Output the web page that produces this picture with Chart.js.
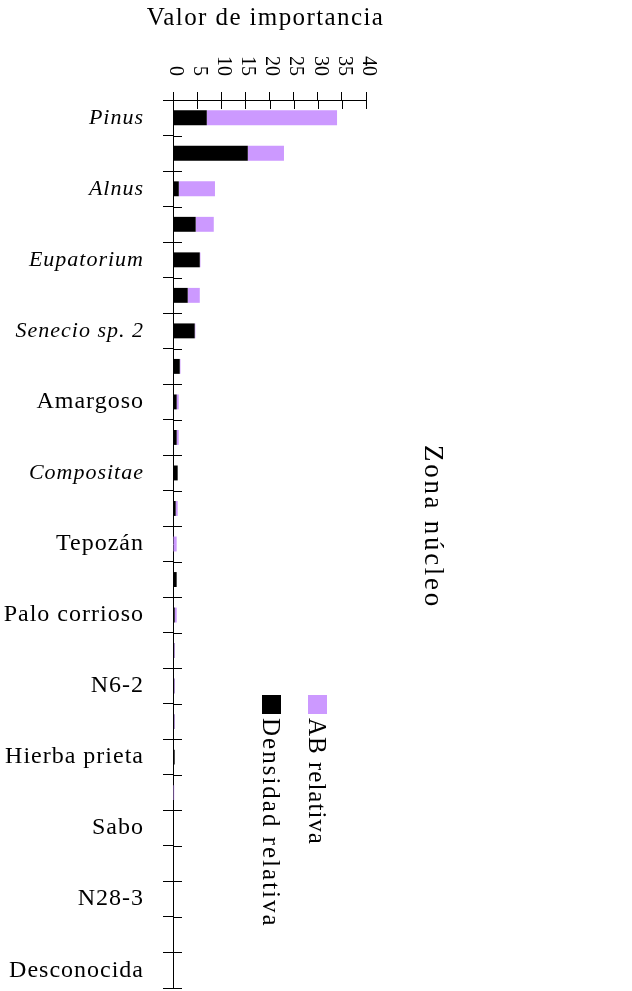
<!DOCTYPE html>
<html>
<head>
<meta charset="utf-8">
<script src="https://cdn.jsdelivr.net/npm/chart.js@4.4.1/dist/chart.umd.min.js"></script>
<style>
  html, body { margin: 0; padding: 0; background: #fff; }
</style>
</head>
<body>
<canvas id="chart" width="632" height="991"></canvas>
<script>
// Datos: valor de importancia por especie (zona núcleo)
const especies = ['Pinus', '', 'Alnus', '', 'Eupatorium', '', 'Senecio sp. 2', '', 'Amargoso', '',
    'Compositae', '', 'Tepozán', '', 'Palo corrioso', '', 'N6-2', '', 'Hierba prieta', '',
    'Sabo', '', 'N28-3', '', 'Desconocida'];
const cursivas = ['Pinus', 'Alnus', 'Eupatorium', 'Senecio sp. 2', 'Compositae'];
const densidadRelativa = [7.0, 15.5, 1.2, 4.7, 5.55, 3.05, 4.5, 1.4, 0.76, 0.76,
    0.97, 0.55, 0, 0.76, 0.35, 0.25, 0.25, 0.25, 0.35, 0,
    0, 0, 0, 0, 0];
const abRelativa = [27.0, 7.5, 7.5, 3.75, 0.14, 2.5, 0.14, 0.15, 0.42, 0.42,
    0, 0.42, 0.76, 0, 0.42, 0.15, 0.15, 0.15, 0, 0.25,
    0, 0, 0, 0, 0];
const ticksValor = [0, 5, 10, 15, 20, 25, 30, 35, 40];

const FUENTE = 'Liberation Serif';

// Dibuja lo que Chart.js no sabe rotar: etiquetas del eje X, leyenda y títulos
const extrasPlugin = {
    id: 'extras',
    beforeDraw(chart) {
        chart.ctx.letterSpacing = '1px';
    },
    afterDraw(chart) {
        const {ctx, chartArea: {left, top}, scales: {x, y}} = chart;
        ctx.save();
        ctx.strokeStyle = '#000';
        ctx.lineWidth = 1;

        // parte interior de las marcas
        ctx.beginPath();
        ticksValor.forEach((v) => {
            const px = Math.round(x.getPixelForValue(v)) + 0.5;
            ctx.moveTo(px, top);
            ctx.lineTo(px, top + 9);
        });
        const mitad = (y.getPixelForValue(1) - y.getPixelForValue(0)) / 2;
        for (let i = 0; i <= especies.length; i += 1) {
            const py = Math.round(y.getPixelForValue(i) - mitad) + 0.5;
            ctx.moveTo(left, py);
            ctx.lineTo(left + 9, py);
        }
        ctx.stroke();

        ctx.fillStyle = '#000';
        // título del eje X
        ctx.font = '25px "' + FUENTE + '"';
        ctx.letterSpacing = '1.4px';
        ctx.textAlign = 'center';
        ctx.textBaseline = 'alphabetic';
        ctx.fillText('Valor de importancia', (x.left + x.right) / 2 - 4, 25);

        // etiquetas del eje X, giradas
        ctx.letterSpacing = '0px';
        ctx.font = '20px "' + FUENTE + '"';
        ctx.textAlign = 'right';
        ctx.textBaseline = 'middle';
        ticksValor.forEach((v) => {
            ctx.save();
            ctx.translate(x.getPixelForValue(v) + 2, 76);
            ctx.rotate(Math.PI / 2);
            ctx.fillText(String(v), 0, 0);
            ctx.restore();
        });

        // leyenda
        const items = [
            {ds: chart.data.datasets[1], x: 308, esp: '1px'},
            {ds: chart.data.datasets[0], x: 262, esp: '2px'}
        ];
        ctx.font = '25px "' + FUENTE + '"';
        ctx.textAlign = 'left';
        ctx.textBaseline = 'alphabetic';
        items.forEach(({ds, x: lx, esp}) => {
            ctx.fillStyle = ds.backgroundColor;
            ctx.fillRect(lx, 695, 19, 19);
            ctx.fillStyle = '#000';
            ctx.letterSpacing = esp;
            ctx.save();
            ctx.translate(lx + 1, 718);
            ctx.rotate(Math.PI / 2);
            ctx.fillText(ds.label, 0, 0);
            ctx.restore();
        });

        // título de la zona
        ctx.font = '27px "' + FUENTE + '"';
        ctx.letterSpacing = '2.7px';
        ctx.save();
        ctx.translate(425, 445);
        ctx.rotate(Math.PI / 2);
        ctx.fillText('Zona núcleo', 0, 0);
        ctx.restore();

        ctx.restore();
    }
};

const ctx = document.getElementById('chart').getContext('2d');
new Chart(ctx, {
    type: 'bar',
    data: {
        labels: especies,
        datasets: [{
            label: 'Densidad relativa',
            data: densidadRelativa,
            backgroundColor: '#000000',
            barPercentage: 0.42,
            categoryPercentage: 1
        }, {
            label: 'AB relativa',
            data: abRelativa,
            backgroundColor: '#cc99ff',
            barPercentage: 0.42,
            categoryPercentage: 1
        }]
    },
    options: {
        indexAxis: 'y',
        responsive: false,
        animation: false,
        layout: {
            padding: {left: 0, top: 0, right: 266, bottom: 3}
        },
        scales: {
            x: {
                position: 'top',
                stacked: true,
                min: 0,
                max: 40,
                afterFit(scale) {
                    scale.height = 100;
                    scale.paddingLeft = 0;
                    scale.paddingRight = 0;
                },
                afterBuildTicks(scale) {
                    scale.ticks = ticksValor.map((v) => ({value: v}));
                },
                ticks: {display: false},
                grid: {
                    drawOnChartArea: false,
                    tickLength: 8,
                    color: '#000',
                    lineWidth: 1
                },
                border: {display: true, color: '#000', width: 1}
            },
            y: {
                stacked: true,
                afterFit(scale) {
                    scale.width = 173;
                    scale.paddingTop = 0;
                    scale.paddingBottom = 0;
                },
                ticks: {
                    autoSkip: false,
                    padding: 19,
                    color: '#000',
                    font: (c) => {
                        const cursiva = cursivas.includes(especies[c.index]);
                        return {family: FUENTE, size: cursiva ? 22 : 24, style: cursiva ? 'italic' : 'normal'};
                    }
                },
                grid: {
                    drawOnChartArea: false,
                    tickLength: 10,
                    color: '#000',
                    lineWidth: 1
                },
                border: {display: true, color: '#000', width: 1}
            }
        },
        plugins: {
            legend: {display: false},
            tooltip: {enabled: false}
        }
    },
    plugins: [extrasPlugin]
});
</script>
</body>
</html>
